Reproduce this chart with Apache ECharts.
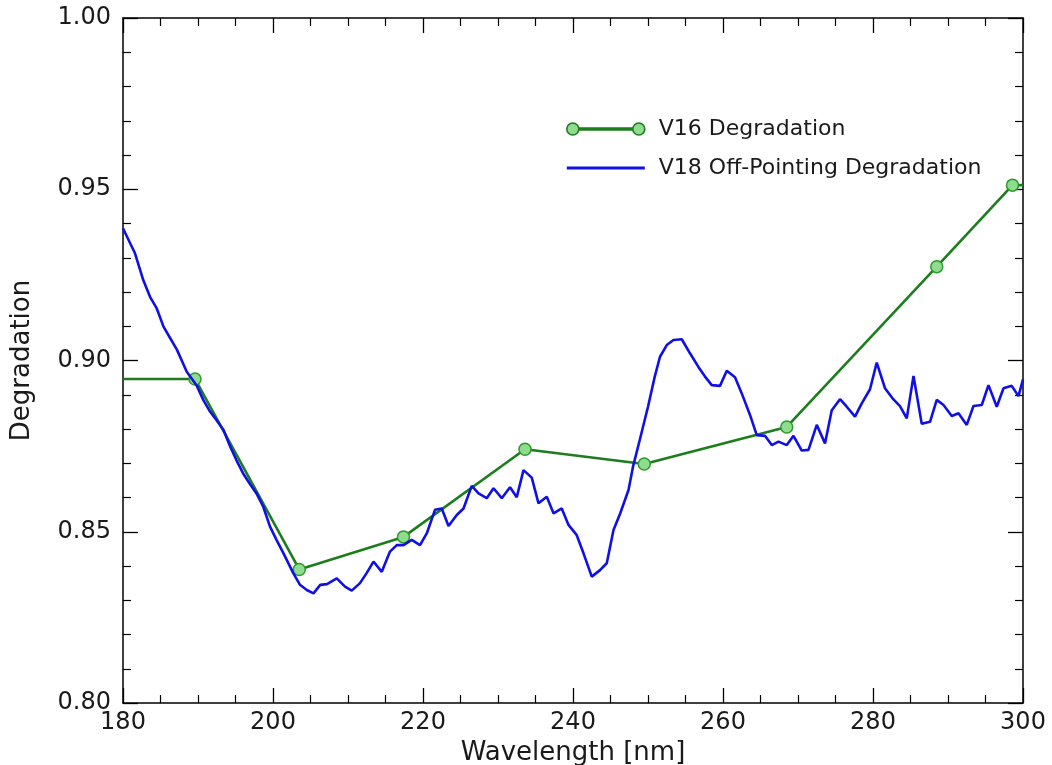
<!DOCTYPE html>
<html>
<head>
<meta charset="utf-8">
<script src="https://cdn.jsdelivr.net/npm/echarts@6/dist/echarts.min.js"></script>
<style>html,body{margin:0;padding:0;background:#fff;}#chart{width:1052px;height:765px;}</style>
</head>
<body>
<div id="chart"></div>
<script>
// V16 degradation points [wavelength nm, degradation]
var v16X = [180, 189.6, 203.5, 217.4, 233.6, 249.5, 268.5, 288.5, 298.6, 300];
var v16Y = [0.8946, 0.8946, 0.8390, 0.8485, 0.8741, 0.8698, 0.8806, 0.9274, 0.9512, 0.9512];
// V18 off-pointing degradation
var v18X = [180, 181, 181.6, 182.7, 183.6, 184.5, 185.4, 186.3, 187.2, 188.5, 189.8, 190.7, 191.6, 192.5, 193.4, 194.3, 195.1, 196.0, 196.9, 197.8, 198.7, 199.6, 200.5, 201.4, 202.7, 203.6, 204.5, 205.4, 206.3, 207.2, 208.5, 209.6, 210.5, 211.6, 212.5, 213.4, 214.5, 215.6, 216.5, 217.4, 218.5, 219.6, 220.5, 221.6, 222.5, 223.4, 224.5, 225.4, 226.5, 227.4, 228.5, 229.4, 230.5, 231.6, 232.5, 233.4, 234.5, 235.4, 236.5, 237.4, 238.5, 239.4, 240.5, 241.4, 242.5, 243.6, 244.5, 245.4, 246.3, 247.4, 248.0, 248.9, 250.0, 250.9, 251.6, 252.5, 253.4, 254.5, 255.6, 256.7, 257.6, 258.5, 259.6, 260.5, 261.6, 262.5, 263.6, 264.5, 265.6, 266.5, 267.4, 268.5, 269.4, 270.5, 271.4, 272.5, 273.6, 274.5, 275.6, 276.5, 277.6, 278.5, 279.6, 280.5, 281.6, 282.7, 283.6, 284.5, 285.4, 286.5, 287.6, 288.5, 289.4, 290.5, 291.4, 292.5, 293.4, 294.5, 295.4, 296.5, 297.4, 298.5, 299.4, 300];
var v18Y = [0.9386, 0.9340, 0.9313, 0.9235, 0.9186, 0.9152, 0.9099, 0.9065, 0.9031, 0.8967, 0.8928, 0.8885, 0.8851, 0.8825, 0.8797, 0.8748, 0.8710, 0.8671, 0.8640, 0.8612, 0.8573, 0.8515, 0.8475, 0.8437, 0.8379, 0.8345, 0.8330, 0.8320, 0.8345, 0.8347, 0.8364, 0.8340, 0.8328, 0.8350, 0.8380, 0.8413, 0.8383, 0.8442, 0.8461, 0.8461, 0.8476, 0.8461, 0.8495, 0.8564, 0.8568, 0.8517, 0.8549, 0.8568, 0.8634, 0.8612, 0.8598, 0.8627, 0.8598, 0.8630, 0.8601, 0.8680, 0.8658, 0.8583, 0.8602, 0.8554, 0.8568, 0.8520, 0.8490, 0.8437, 0.8369, 0.8388, 0.8408, 0.8505, 0.8554, 0.8622, 0.8690, 0.8768, 0.8865, 0.8953, 0.9011, 0.9045, 0.9060, 0.9062, 0.9021, 0.8982, 0.8953, 0.8928, 0.8926, 0.8970, 0.8951, 0.8904, 0.8841, 0.8782, 0.8780, 0.8753, 0.8763, 0.8753, 0.8780, 0.8737, 0.8739, 0.8812, 0.8758, 0.8855, 0.8887, 0.8865, 0.8836, 0.8875, 0.8916, 0.8994, 0.8919, 0.8887, 0.8867, 0.8831, 0.8955, 0.8815, 0.8821, 0.8885, 0.8870, 0.8838, 0.8846, 0.8812, 0.8867, 0.8870, 0.8928, 0.8865, 0.8919, 0.8926, 0.8896, 0.8945];
var xTicks = [180, 200, 220, 240, 260, 280, 300];
var yTicks = ['0.80', '0.85', '0.90', '0.95', '1.00'];

var FONT = 'DejaVu Sans';
var TXT = '#1a1a1a';
var GREEN_LINE = '#1c7d1c';
var GREEN_FILL = '#8fdc8f';
var GREEN_EDGE = '#2f9a2f';
var BLUE = '#1010e6';
function pairs(xs, ys) { return xs.map(function (x, i) { return [x, ys[i]]; }); }
var v16Data = pairs(v16X, v16Y).map(function (p, i) {
  var last = v16X.length - 1;
  if (i === 0 || i === last) return { value: p, symbol: 'none' };
  return { value: p };
});

function xAxisDef(pos, show) {
  return {
    type: 'value', position: pos, min: 180, max: 300, interval: 20,
    axisLine: { show: true, onZero: false, lineStyle: { color: '#000', width: 1.5 } },
    axisTick: { show: true, inside: true, length: 15, lineStyle: { color: '#000', width: 1.3 } },
    minorTick: { show: true, splitNumber: 4, length: 8, lineStyle: { color: '#000', width: 1.2 } },
    splitLine: { show: false },
    axisLabel: show ? {
      show: true, color: TXT, fontFamily: FONT, fontSize: 24, margin: 8,
      formatter: function (v) { return xTicks.indexOf(v) >= 0 ? String(v) : ''; }
    } : { show: false },
    name: show ? 'Wavelength [nm]' : '', nameLocation: 'middle', nameGap: 35,
    nameTextStyle: { color: TXT, fontFamily: FONT, fontSize: 26 }
  };
}
function yAxisDef(pos, show) {
  return {
    type: 'value', position: pos, min: 0.8, max: 1.0, interval: 0.05,
    axisLine: { show: true, onZero: false, lineStyle: { color: '#000', width: 1.5 } },
    axisTick: { show: true, inside: true, length: 15, lineStyle: { color: '#000', width: 1.3 } },
    minorTick: { show: true, splitNumber: 5, length: 8, lineStyle: { color: '#000', width: 1.2 } },
    splitLine: { show: false },
    axisLabel: show ? {
      show: true, color: TXT, fontFamily: FONT, fontSize: 24, margin: 12,
      formatter: function (v) { var s = v.toFixed(2); return yTicks.indexOf(s) >= 0 ? s : ''; }
    } : { show: false },
    name: show ? 'Degradation' : '', nameLocation: 'middle', nameGap: 88,
    nameTextStyle: { color: TXT, fontFamily: FONT, fontSize: 26 }
  };
}

var v16Icon = 'path://M1,7a6,6 0 1,0 12,0a6,6 0 1,0 -12,0z M13,6.1h54v1.8h-54z M67,7a6,6 0 1,0 12,0a6,6 0 1,0 -12,0z';
var v18Icon = 'path://M0,0h68v2.8h-68z';

var chart = echarts.init(document.getElementById('chart'));
chart.setOption({
  backgroundColor: '#fff',
  animation: false,
  grid: { left: 123, right: 29, top: 18, bottom: 62, containLabel: false, outerBoundsMode: 'none' },
  xAxis: [xAxisDef('bottom', true), xAxisDef('top', false)],
  yAxis: [yAxisDef('left', true), yAxisDef('right', false)],
  legend: {
    orient: 'vertical', left: 561, top: 113, itemWidth: 78, itemHeight: 12, itemGap: 17,
    textStyle: { color: TXT, fontFamily: FONT, fontSize: 22, padding: [0, 0, 0, 9] },
    data: [
      { name: 'V16 Degradation', icon: v16Icon,
        itemStyle: { color: GREEN_FILL, borderColor: GREEN_LINE, borderWidth: 1.6 } },
      { name: 'V18 Off-Pointing Degradation', icon: v18Icon,
        itemStyle: { color: BLUE, borderWidth: 0 } }
    ]
  },
  series: [
    {
      name: 'V16 Degradation', type: 'line', xAxisIndex: 0, yAxisIndex: 0,
      data: v16Data, symbol: 'circle', symbolSize: 12, showAllSymbol: true, z: 2,
      lineStyle: { color: GREEN_LINE, width: 2.6 },
      itemStyle: { color: GREEN_FILL, borderColor: GREEN_EDGE, borderWidth: 1.5 }
    },
    {
      name: 'V18 Off-Pointing Degradation', type: 'line', xAxisIndex: 0, yAxisIndex: 0,
      data: pairs(v18X, v18Y), symbol: 'none', z: 3,
      lineStyle: { color: BLUE, width: 2.6 },
      itemStyle: { color: BLUE }
    }
  ]
});
</script>
</body>
</html>
